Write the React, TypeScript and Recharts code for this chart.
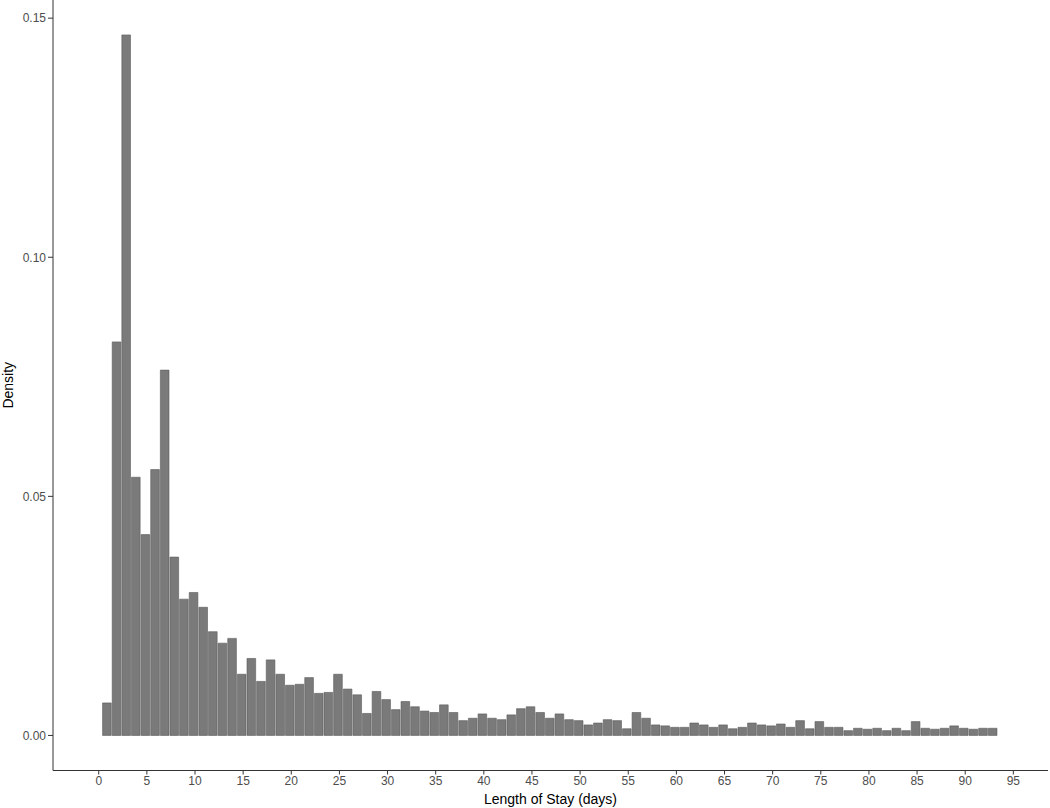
import { ComposedChart, Bar, XAxis, YAxis } from 'recharts';

// histogram bins are one day wide, the first one starting at 0.4 days
const binStart = 0.4;
const binWidth = 1;

// density per bin (bins 1..93)
const density = [
  0.0068, 0.0823, 0.1465, 0.054, 0.042, 0.0556, 0.0764, 0.0373, 0.0285, 0.0299,
  0.0268, 0.0217, 0.0193, 0.0203, 0.0128, 0.0161, 0.0113, 0.0158, 0.0128, 0.0105,
  0.0107, 0.0121, 0.0088, 0.009, 0.0128, 0.0097, 0.0085, 0.0046, 0.0092, 0.0075,
  0.0054, 0.0071, 0.006, 0.0051, 0.0048, 0.0064, 0.0048, 0.0031, 0.0036, 0.0045,
  0.0036, 0.0033, 0.0043, 0.0056, 0.006, 0.0048, 0.0036, 0.0045, 0.0033, 0.0031,
  0.0022, 0.0026, 0.0033, 0.0031, 0.0014, 0.0048, 0.0036, 0.0022, 0.002, 0.0017,
  0.0017, 0.0026, 0.0022, 0.0017, 0.0022, 0.0014, 0.0017, 0.0026, 0.0022, 0.002,
  0.0024, 0.0017, 0.0031, 0.0014, 0.0029, 0.0017, 0.0017, 0.001, 0.0015, 0.0013,
  0.0015, 0.001, 0.0015, 0.001, 0.0029, 0.0015, 0.0013, 0.0015, 0.002, 0.0015,
  0.0013, 0.0015, 0.0015,
];

const xTicks = [0, 5, 10, 15, 20, 25, 30, 35, 40, 45, 50, 55, 60, 65, 70, 75, 80, 85, 90, 95];
const yTicks = [0, 0.05, 0.1, 0.15];

const xDomain: [number, number] = [-4.75, 98.6];
const yDomain: [number, number] = [-0.00733, 0.1538];

const W = 1050;
const H = 808;
const plotLeft = 53;
const plotRight = 2;
const xAxisHeight = 37.5;

const data = density.map((d, i) => ({
  los: binStart + binWidth * i + binWidth / 2,
  density: d,
}));

const barPx = ((W - plotLeft - plotRight) / (xDomain[1] - xDomain[0])) * binWidth;

const font = 'Liberation Sans, Arial, sans-serif';
const tickStyle = { fontSize: 12, fill: '#4d4d4d', fontFamily: font };
const axisStroke = { stroke: '#333333', strokeWidth: 1 };

export default function App() {
  return (
    <div style={{ width: W, height: H, background: '#fff' }}>
      <style>{'body{margin:0}'}</style>
      <ComposedChart
        width={W}
        height={H}
        data={data}
        margin={{ top: 0, right: plotRight, bottom: 0, left: 0 }}
      >
        <XAxis
          dataKey="los"
          type="number"
          domain={xDomain}
          allowDataOverflow
          ticks={xTicks}
          interval={0}
          height={xAxisHeight}
          tick={tickStyle}
          tickSize={4}
          tickLine={axisStroke}
          axisLine={axisStroke}
          label={{
            value: 'Length of Stay (days)',
            position: 'insideBottom',
            offset: 4,
            style: { fontSize: 14, fill: '#000', fontFamily: font },
          }}
        />
        <YAxis
          type="number"
          domain={yDomain}
          allowDataOverflow
          ticks={yTicks}
          interval={0}
          width={plotLeft}
          tick={tickStyle}
          tickSize={5}
          tickLine={axisStroke}
          axisLine={axisStroke}
          tickFormatter={(v: number) => v.toFixed(2)}
          label={{
            value: 'Density',
            angle: -90,
            position: 'insideLeft',
            offset: 8,
            style: { fontSize: 14, fill: '#000', textAnchor: 'middle', fontFamily: font },
          }}
        />
        <Bar
          dataKey="density"
          fill="#7a7a7a"
          stroke="#5a5a5a"
          strokeWidth={0.6}
          barSize={barPx}
          isAnimationActive={false}
        />
      </ComposedChart>
    </div>
  );
}
